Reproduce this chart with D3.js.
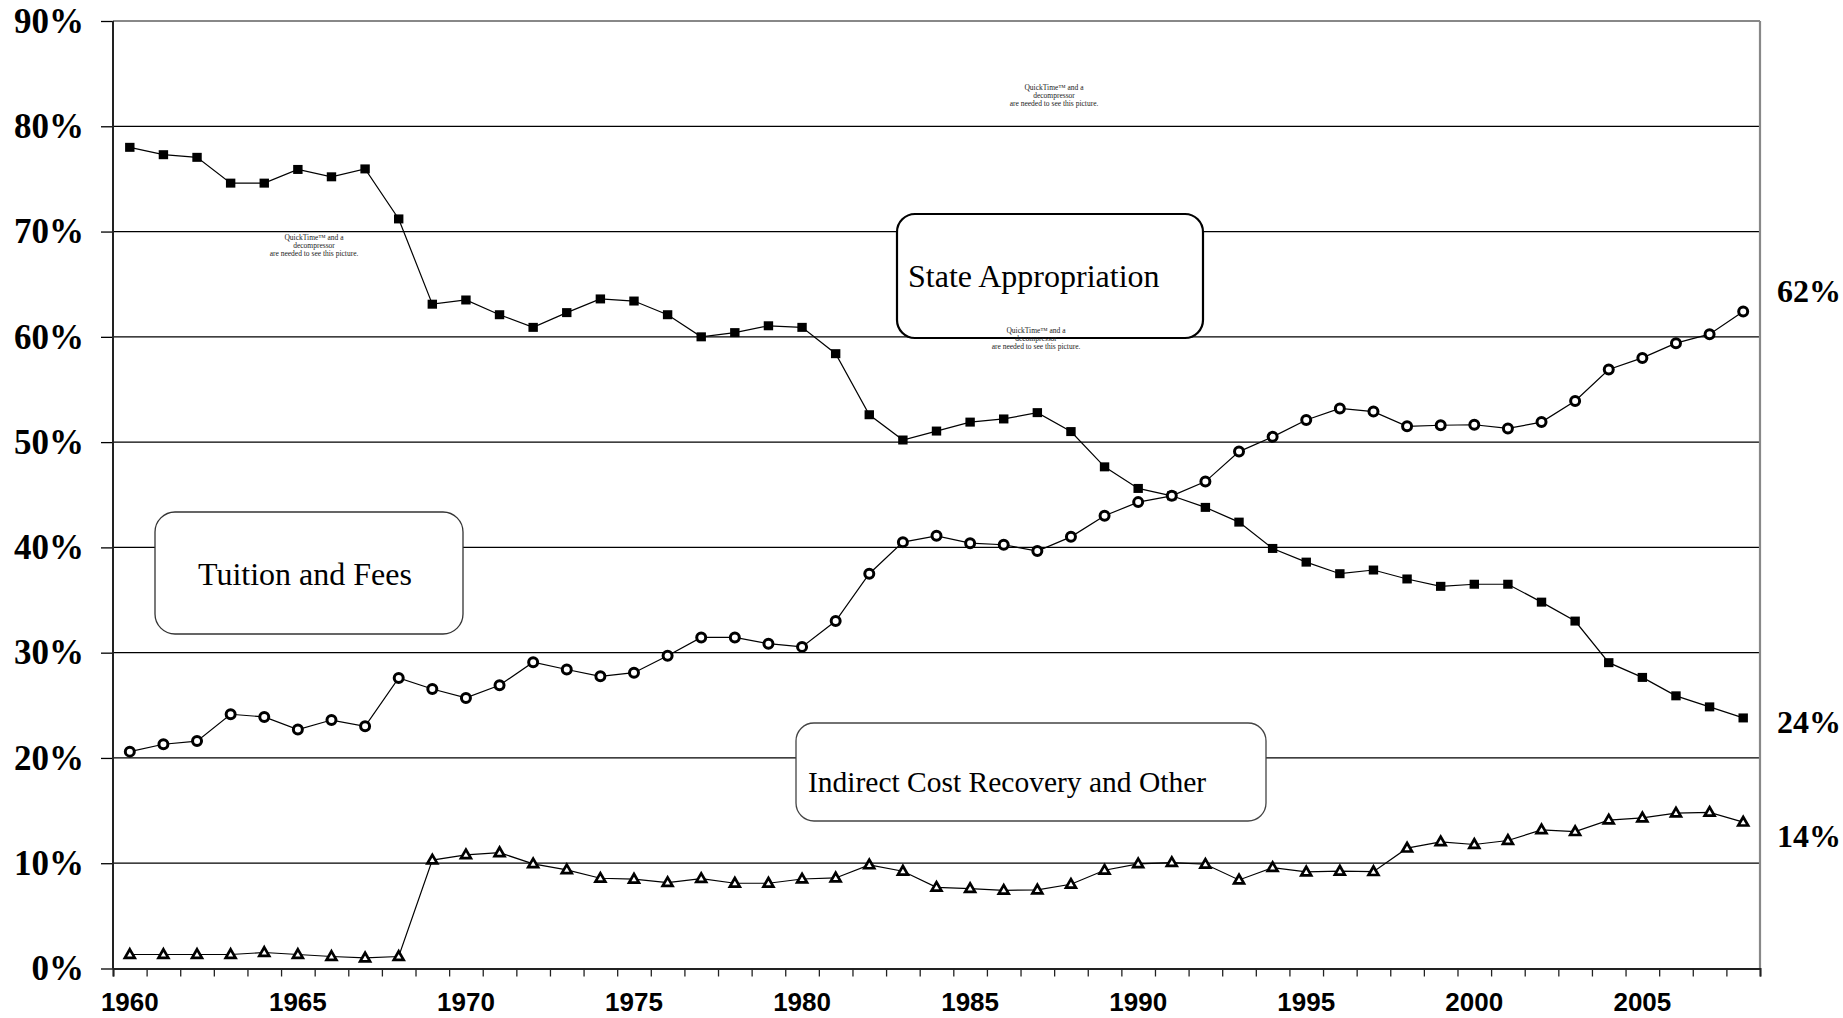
<!DOCTYPE html>
<html>
<head>
<meta charset="utf-8">
<script src="https://cdn.jsdelivr.net/npm/d3@7/dist/d3.min.js"></script>
<style>
  body { margin: 0; background: #fff; }
  svg { display: block; }
  .ylab text { font-family: "Liberation Serif", "Times New Roman", serif; font-weight: bold; font-size: 35px; fill: #000; }
  .xlab text { font-family: "Liberation Sans", Arial, sans-serif; font-weight: bold; font-size: 26px; fill: #000; }
  .endlab { font-family: "Liberation Serif", "Times New Roman", serif; font-weight: bold; font-size: 32px; fill: #000; }
  .boxtext { font-family: "Liberation Serif", "Times New Roman", serif; fill: #000; }
  .qt { font-family: "Liberation Serif", "Times New Roman", serif; font-size: 7.5px; fill: #222; }
</style>
</head>
<body>
<div id="chart"></div>
<script>
// categories
const years = [1960, 1961, 1962, 1963, 1964, 1965, 1966, 1967, 1968, 1969,
  1970, 1971, 1972, 1973, 1974, 1975, 1976, 1977, 1978, 1979,
  1980, 1981, 1982, 1983, 1984, 1985, 1986, 1987, 1988, 1989,
  1990, 1991, 1992, 1993, 1994, 1995, 1996, 1997, 1998, 1999,
  2000, 2001, 2002, 2003, 2004, 2005, 2006, 2007, 2008];
const labelYears = [1960, 1965, 1970, 1975, 1980, 1985, 1990, 1995, 2000, 2005];
const yTicks = [0, 0.1, 0.2, 0.3, 0.4, 0.5, 0.6, 0.7, 0.8, 0.9];

// series, percent of revenue
const stateApprop = [78.0, 77.3, 77.05, 74.6, 74.6, 75.9, 75.2, 75.95, 71.2, 63.1,
  63.5, 62.1, 60.9, 62.3, 63.6, 63.4, 62.1, 60.0, 60.4, 61.05,
  60.9, 58.4, 52.6, 50.2, 51.05, 51.9, 52.2, 52.8, 51.0, 47.65,
  45.6, 44.9, 43.8, 42.4, 39.9, 38.6, 37.5, 37.85, 37.0, 36.3,
  36.5, 36.5, 34.8, 33.0, 29.05, 27.65, 25.9, 24.85, 23.8];
const tuitionFees = [20.6, 21.3, 21.6, 24.15, 23.9, 22.7, 23.6, 23.0, 27.6, 26.55,
  25.7, 26.9, 29.1, 28.4, 27.75, 28.1, 29.7, 31.45, 31.45, 30.85,
  30.55, 33.0, 37.5, 40.5, 41.1, 40.4, 40.25, 39.65, 41.0, 43.0,
  44.3, 44.9, 46.25, 49.1, 50.5, 52.1, 53.2, 52.9, 51.5, 51.6,
  51.65, 51.3, 51.9, 53.9, 56.9, 58.0, 59.4, 60.25, 62.4];
const indirectOther = [1.33, 1.33, 1.33, 1.33, 1.52, 1.33, 1.14, 1.0, 1.14, 10.3,
  10.8, 11.0, 9.94, 9.37, 8.57, 8.48, 8.16, 8.54, 8.1, 8.1,
  8.5, 8.6, 9.84, 9.24, 7.71, 7.59, 7.43, 7.46, 8.0, 9.33,
  9.94, 10.06, 9.9, 8.41, 9.59, 9.17, 9.24, 9.2, 11.43, 12.03,
  11.78, 12.16, 13.17, 13.0, 14.1, 14.3, 14.76, 14.83, 13.9];

const endLabels = ["62%", "24%", "14%"];

var W = 1843, H = 1018;
var m = { left: 113, right: 83, top: 21, bottom: 49.5 };
var iw = W - m.left - m.right, ih = H - m.top - m.bottom;

var svg = d3.select("#chart").append("svg").attr("width", W).attr("height", H);
var g = svg.append("g").attr("transform", "translate(" + m.left + "," + m.top + ")");

var x = d3.scaleBand().domain(years).range([0, iw]).padding(0);
var xi = d3.scaleLinear().domain([0, years.length]).range([0, iw]);
var y = d3.scaleLinear().domain([0, 0.9]).range([ih, 0]);
function cx(d, i) { return x(years[i]) + x.bandwidth() / 2; }

// grid
g.append("g").selectAll("line")
  .data(yTicks.slice(1, -1))
  .enter().append("line")
  .attr("x1", 0).attr("x2", iw)
  .attr("y1", function(d) { return y(d); }).attr("y2", function(d) { return y(d); })
  .attr("stroke", "#000").attr("stroke-width", 1.3);

// frame: gray top + right
g.append("line").attr("x1", 0).attr("x2", iw).attr("y1", 0).attr("y2", 0)
  .attr("stroke", "#888").attr("stroke-width", 2.2);
g.append("line").attr("x1", iw).attr("x2", iw).attr("y1", 0).attr("y2", ih)
  .attr("stroke", "#888").attr("stroke-width", 2.2);

// y axis
var yAxis = g.append("g").attr("class", "ylab")
  .call(d3.axisLeft(y).tickValues(yTicks).tickFormat(d3.format(".0%")).tickSize(12).tickPadding(17));
yAxis.select(".domain").remove();
yAxis.selectAll(".tick line").attr("stroke", "#000").attr("stroke-width", 1.3);
yAxis.selectAll("text").attr("font-family", null).attr("font-size", null);
g.append("line").attr("x1", 0).attr("x2", 0).attr("y1", 0).attr("y2", ih)
  .attr("stroke", "#222").attr("stroke-width", 2);

// x axis ticks at category edges
var xTicks = g.append("g").attr("transform", "translate(0," + ih + ")")
  .call(d3.axisBottom(xi).tickValues(d3.range(0, years.length + 1)).tickSize(8).tickFormat(""));
xTicks.select(".domain").attr("stroke", "#222").attr("stroke-width", 2);
xTicks.selectAll(".tick line").attr("stroke", "#222").attr("stroke-width", 1.3);

var xLab = g.append("g").attr("class", "xlab").attr("transform", "translate(0," + ih + ")")
  .call(d3.axisBottom(x).tickValues(labelYears).tickSize(0).tickPadding(24));
xLab.select(".domain").remove();
xLab.selectAll("text").attr("font-family", null).attr("font-size", null);

// annotation boxes
function box(x0, y0, x1, y1, r, sw, stroke) {
  g.append("rect")
    .attr("x", x0 - m.left).attr("y", y0 - m.top)
    .attr("width", x1 - x0).attr("height", y1 - y0)
    .attr("rx", r).attr("ry", r)
    .attr("fill", "#fff").attr("stroke", stroke).attr("stroke-width", sw);
}
box(897, 214, 1203, 338, 18, 2.2, "#000");
box(155, 512, 463, 634, 20, 1.3, "#333");
box(796, 723, 1266, 821, 18, 1.3, "#444");

function boxText(t, xx, yy, fs) {
  g.append("text").attr("class", "boxtext")
    .attr("x", xx - m.left).attr("y", yy - m.top)
    .attr("font-size", fs).text(t);
}
boxText("State Appropriation", 908, 287, 32);
boxText("Tuition and Fees", 198, 585, 32);
boxText("Indirect Cost Recovery and Other", 808, 792, 29.5);

// QuickTime placeholders
function qt(xx, yy) {
  var lines = ["QuickTime\u2122 and a", "decompressor", "are needed to see this picture."];
  g.append("text").attr("class", "qt")
    .attr("text-anchor", "middle")
    .selectAll("tspan").data(lines).enter().append("tspan")
    .attr("x", xx - m.left)
    .attr("y", function(d, i) { return yy - m.top + i * 7.8; })
    .text(function(d) { return d; });
}
qt(314, 240);
qt(1054, 90);
qt(1036, 333);

// lines
var line = d3.line()
  .x(function(d, i) { return cx(d, i); })
  .y(function(d) { return y(d / 100); });

[stateApprop, tuitionFees, indirectOther].forEach(function(s) {
  g.append("path").datum(s).attr("d", line)
    .attr("fill", "none").attr("stroke", "#000").attr("stroke-width", 1.2);
});

// markers
g.append("g").selectAll("rect").data(stateApprop).enter().append("rect")
  .attr("x", function(d, i) { return cx(d, i) - 4.7; })
  .attr("y", function(d) { return y(d / 100) - 4.5; })
  .attr("width", 9.4).attr("height", 9).attr("fill", "#000");

g.append("g").selectAll("circle").data(tuitionFees).enter().append("circle")
  .attr("cx", cx)
  .attr("cy", function(d) { return y(d / 100); })
  .attr("r", 4.5).attr("fill", "#fff").attr("stroke", "#000").attr("stroke-width", 3);

var tri = d3.symbol().type(d3.symbolTriangle).size(42);
g.append("g").selectAll("path").data(indirectOther).enter().append("path")
  .attr("d", tri)
  .attr("transform", function(d, i) { return "translate(" + cx(d, i) + "," + (y(d / 100) + 0.5) + ")"; })
  .attr("fill", "#fff").attr("stroke", "#000").attr("stroke-width", 2.7);

// end labels
var endY = [302, 733, 847];
svg.selectAll(".endlab").data(endLabels).enter().append("text")
  .attr("class", "endlab")
  .attr("x", 1777)
  .attr("y", function(d, i) { return endY[i]; })
  .text(function(d) { return d; });
</script>
</body>
</html>
